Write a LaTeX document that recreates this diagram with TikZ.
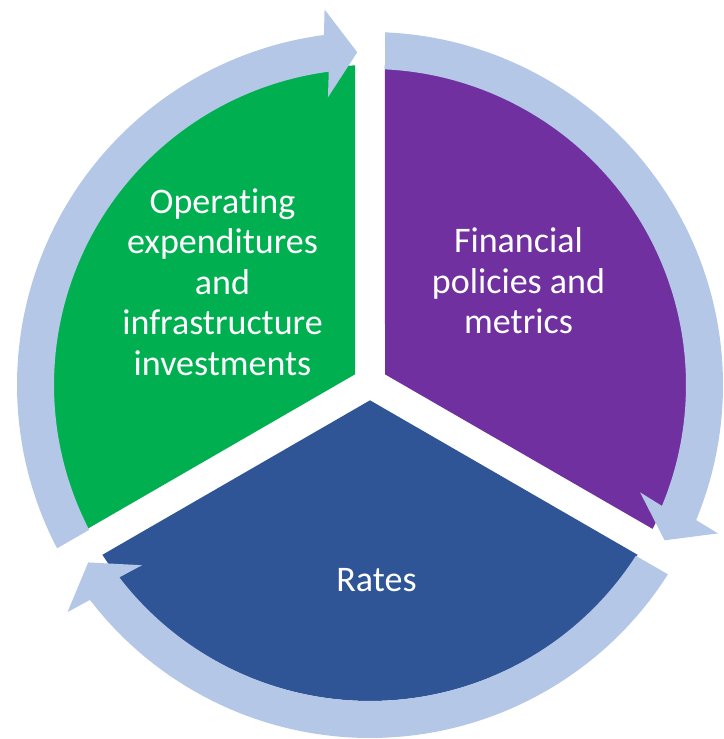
\documentclass[tikz,border=0pt]{standalone}
\usepackage{fontspec}
\setmainfont{Carlito}[Ligatures={NoCommon}]
\usetikzlibrary{calc}
\definecolor{pgreen}{HTML}{00B050}
\definecolor{ppurple}{HTML}{7030A0}
\definecolor{pblue}{HTML}{2F5597}
\definecolor{lightring}{HTML}{B4C7E7}
\newcommand\ringarrow[2]{% #1 = gap angle at tail, #2 = tip angle
  \fill[cyclearrow] ({#1-2.44}:353) arc[start angle={#1-2.44}, end angle={#2+5.3}, radius=353]
    -- ($({#2}:333)+({#2+90}:31)+({#2}:44)$) -- ({#2}:333)
    -- ($({#2}:333)+({#2+90}:31)+({#2+180}:44)$)
    -- ({#2+5.3}:316) arc[start angle={#2+5.3}, end angle={#1-2.72}, radius=316] -- cycle;}
\begin{document}
\begin{tikzpicture}[x=1pt,y=1pt,
  cyclearrow/.style={fill=lightring,draw=none},
  lbl/.style={text=white,font=\fontsize{36}{40.6}\selectfont,align=center,inner sep=0pt}]
\useasboundingbox (0,0) rectangle (723,739);
\begin{scope}[shift={(370,356)}]
  \fill[pgreen] (150:17.32) -- (92.70:318) arc[start angle=92.70,end angle=207.30,radius=318] -- cycle;
  \fill[ppurple] (30:17.32) -- (-27.30:318) arc[start angle=-27.30,end angle=87.30,radius=318] -- cycle;
  \fill[pblue] (270:17.32) -- (212.70:318) arc[start angle=212.70,end angle=327.30,radius=318] -- cycle;
\end{scope}
\begin{scope}[shift={(370,354)}]
  \ringarrow{210}{92.2}
  \ringarrow{90}{-27.8}
  \ringarrow{330}{212.2}
\end{scope}
\node[lbl] (ops) at (222.5,457) {Operating\\expenditures\\and\\infrastructure\\investments};
\node[lbl] (fin) at (518.5,458) {Financial\\policies and\\metrics};
\node[lbl] (rates) at (376.5,159) {Rates};
\end{tikzpicture}
\end{document}
